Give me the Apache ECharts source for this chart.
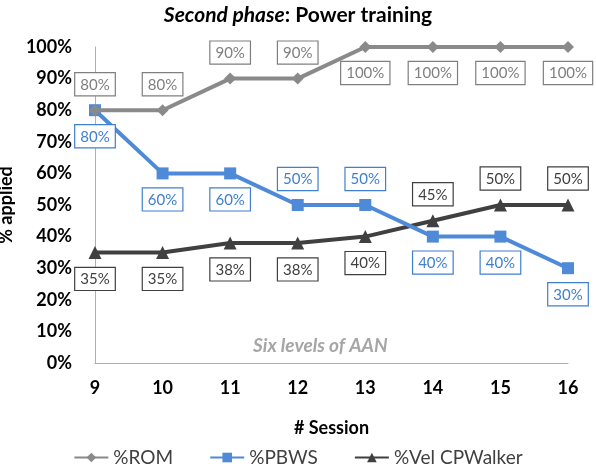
<!DOCTYPE html>
<html><head><meta charset="utf-8">
<script src="https://cdn.jsdelivr.net/npm/echarts@6/dist/echarts.min.js"></script>
<style>html,body{margin:0;padding:0;background:#fff}#c{width:596px;height:475px}</style>
</head><body><div id="c"></div>
<script>
const sessions = ['9','10','11','12','13','14','15','16'];
const romValues = [80, 80, 90, 90, 100, 100, 100, 100];
const pbwsValues = [80, 60, 60, 50, 50, 40, 40, 30];
const velValues = [35, 35, 38, 38, 40, 45, 50, 50];
const seriesNames = ['%ROM', '%PBWS', '%Vel CPWalker'];

const romSide = ['top','top','top','top','bottom','bottom','bottom','bottom'];
const pbwsSide = ['bottom','bottom','bottom','top','top','bottom','bottom','bottom'];
const velSide = ['bottom','bottom','bottom','bottom','bottom','top','top','top'];

const FONT = 'Lato, "Open Sans", sans-serif';
const colors = ['#8a8a8a', '#4f8ad8', '#404040'];
const textColors = ['#7f7f7f', '#3f7fd0', '#404040'];

function mkSeries(name, values, sides, idx, symbol, size) {
  return {
    name: name, type: 'line', data: values.map((v, i) => ({
      value: v,
      label: { position: sides[i] }
    })),
    symbol: symbol, symbolSize: size,
    lineStyle: { color: colors[idx], width: 4 },
    itemStyle: { color: colors[idx] },
    label: {
      show: true, formatter: '{c}%', distance: 9,
      color: textColors[idx], fontFamily: FONT, fontSize: 15,
      backgroundColor: '#fff', borderColor: textColors[idx], borderWidth: 1.2,
      padding: [4, 5, 3, 5]
    },
    z: 3 - idx
  };
}

const chart = echarts.init(document.getElementById('c'));
chart.setOption({
  animation: false,
  title: {
    text: '{i|Second phase}{n|: Power training}', left: 'center', top: 0,
    textStyle: { rich: {
      i: { fontStyle: 'italic', fontSize: 21, fontFamily: FONT, color: '#000' },
      n: { fontSize: 21, fontFamily: FONT, color: '#000' }
    } }
  },
  grid: { left: 95, right: 28, top: 47, bottom: 112, containLabel: false, outerBoundsMode: 'none' },
  xAxis: {
    type: 'category', data: sessions, boundaryGap: false,
    name: '# Session', nameLocation: 'middle', nameGap: 56,
    nameTextStyle: { fontWeight: 'bold', fontSize: 18, fontFamily: FONT, color: '#000' },
    axisLine: { lineStyle: { color: '#b0b0b0', width: 1 } },
    axisTick: { show: false },
    axisLabel: { fontWeight: 'bold', fontSize: 18, fontFamily: FONT, color: '#000', margin: 16 },
    splitLine: { show: false }
  },
  yAxis: {
    type: 'value', min: 0, max: 100, interval: 10,
    name: '% applied', nameLocation: 'middle', nameGap: 71, nameRotate: 90,
    nameTextStyle: { fontWeight: 'bold', fontSize: 18, fontFamily: FONT, color: '#000' },
    axisLine: { show: true, lineStyle: { color: '#b0b0b0', width: 1 } },
    axisTick: { show: false },
    axisLabel: { formatter: '{value}%', fontWeight: 'bold', fontSize: 18, fontFamily: FONT, color: '#000', margin: 23 },
    splitLine: { show: false }
  },
  legend: {
    bottom: 3, left: 'center', itemGap: 36, itemWidth: 34, itemHeight: 12,
    textStyle: { fontSize: 19, fontFamily: FONT, color: '#404040' },
    data: seriesNames
  },
  graphic: [{
    type: 'text', left: 253, top: 336,
    style: { text: 'Six levels of AAN', fontStyle: 'italic', fontWeight: 'bold', fontSize: 19, fontFamily: FONT, fill: '#a6a6a6' }
  }],
  series: [
    mkSeries(seriesNames[0], romValues, romSide, 0, 'diamond', 12),
    mkSeries(seriesNames[1], pbwsValues, pbwsSide, 1, 'rect', 12),
    mkSeries(seriesNames[2], velValues, velSide, 2, 'triangle', 13)
  ]
});
</script></body></html>
